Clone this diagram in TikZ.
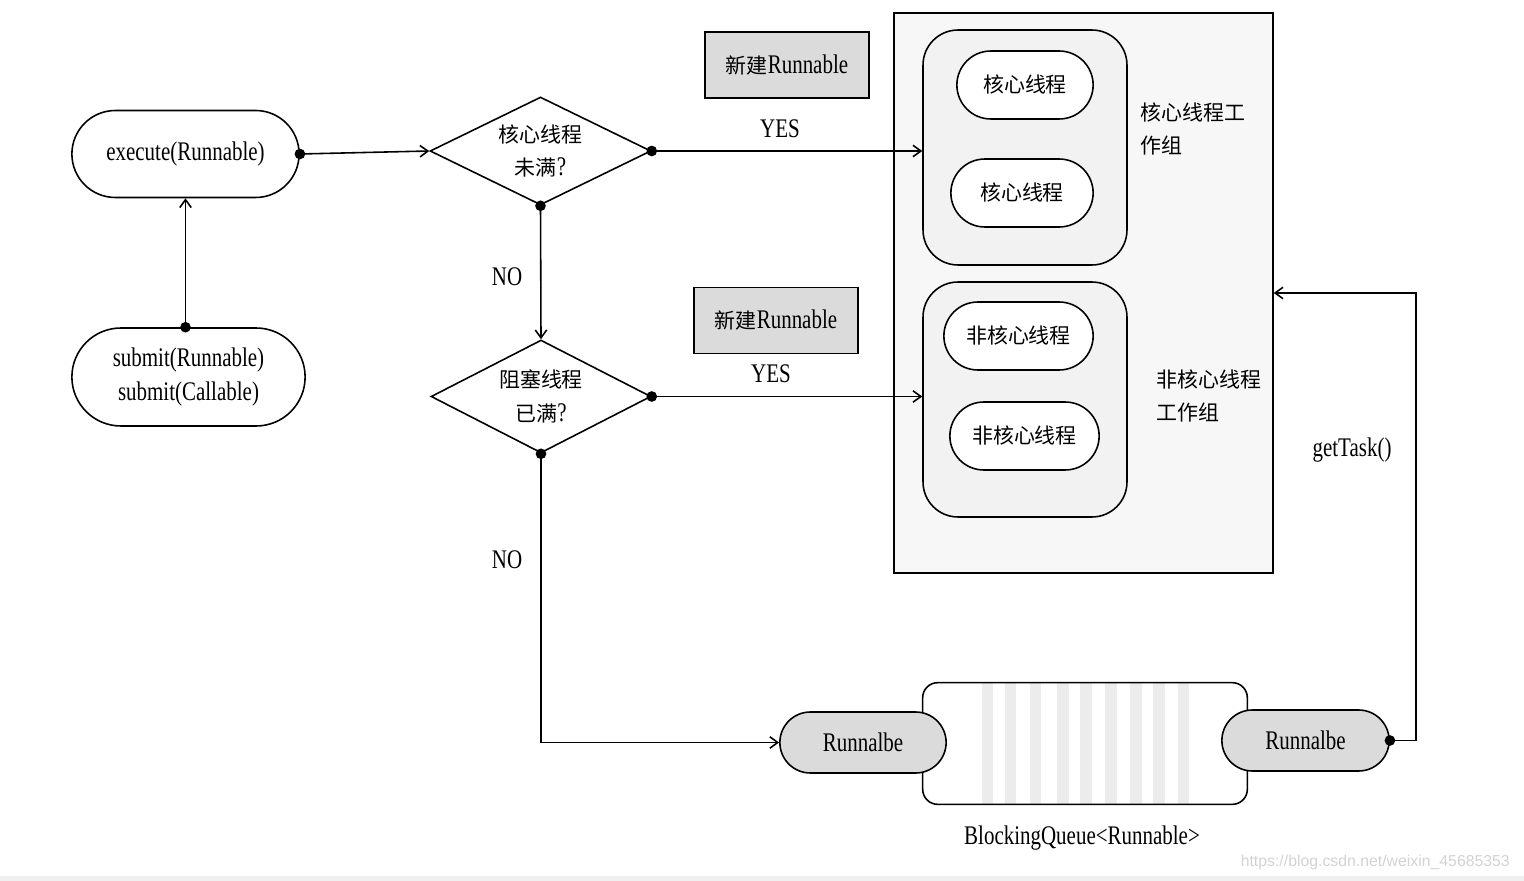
\documentclass[tikz,border=0pt]{standalone}
\usepackage{fontspec}
\setmainfont{Liberation Serif}[FakeStretch=0.78]
\newfontfamily\cjk{Noto Sans CJK SC}[Scale=0.78]
\newfontfamily\wmfont{Liberation Sans}
\usetikzlibrary{arrows.meta, shapes.geometric, shapes.misc}
\tikzset{
  pill/.style={draw, rounded rectangle, line width=0.9pt},
  cond/.style={draw, diamond, aspect=2.05, inner sep=0pt, line width=0.9pt, align=center},
  newbox/.style={draw, fill=gray!28, minimum width=3.28cm, minimum height=1.32cm, line width=0.9pt},
  grp/.style={draw, fill=gray!10, rounded corners=0.7cm, minimum width=4.08cm, minimum height=4.7cm, line width=0.9pt},
  link/.style={{Circle[length=6pt]}-{Straight Barb[length=4.5pt,width=6.5pt,line width=0.9pt]}, shorten <=-3pt, line width=0.9pt},
}

\begin{document}
\begin{tikzpicture}[x=0.02cm, y=-0.02cm, font=\fontsize{15.3}{19}\selectfont]
  \useasboundingbox (0,0) rectangle (1524,881);
  \node[pill, minimum width=4.78cm, minimum height=1.74cm] (exec) at (185.5,154) {execute(Runnable)};
  \node[pill, minimum width=4.9cm, minimum height=1.96cm, align=center] (submit) at (188.5,377) {submit(Runnable)\\submit(Callable)};
  \node[cond, minimum width=4.42cm, minimum height=2.16cm] (coreq) at (540.5,151) {{\cjk 核心线程}\\{\cjk 未满}?};
  \node[cond, minimum width=4.4cm, minimum height=2.26cm] (fullq) at (541,396.5) {{\cjk 阻塞线程}\\{\cjk 已满}?};
  \node[newbox] (new1) at (787,65) {{\cjk 新建}Runnable};
  \node[newbox] (new2) at (776,320.5) {{\cjk 新建}Runnable};
  \node (yes1) at (780,129) {YES};
  \node (yes2) at (771,374) {YES};
  \node (no1) at (507,277) {NO};
  \node (no2) at (507,560) {NO};
  \node[draw, fill=gray!6, minimum width=7.58cm, minimum height=11.2cm, line width=0.9pt] (pool) at (1083.5,293) {};
  \node[grp] (coregrp) at (1025,147.5) {};
  \node[grp] (ncgrp) at (1025,399.5) {};
  \node[pill, fill=white, minimum width=2.96cm, minimum height=1.36cm] (core1) at (1025,85) {\cjk 核心线程};
  \node[pill, fill=white, minimum width=3.08cm, minimum height=1.36cm] (core2) at (1022,193) {\cjk 核心线程};
  \node[pill, fill=white, minimum width=3.22cm, minimum height=1.36cm] (nc1) at (1018.5,336) {\cjk 非核心线程};
  \node[pill, fill=white, minimum width=3.22cm, minimum height=1.36cm] (nc2) at (1024.5,436) {\cjk 非核心线程};
  \node[align=left, anchor=west] (coretxt) at (1134,129) {{\cjk 核心线程工}\\{\cjk 作组}};
  \node[align=left, anchor=west] (nctxt) at (1150,396) {{\cjk 非核心线程}\\{\cjk 工作组}};
  \node[fill=white, minimum width=6.48cm, minimum height=2.42cm] (queue) at (1085,743.5) {};
  \foreach \x in {987.5,1010.5,1035.5,1063,1086,1111,1136,1159,1183.5}
    \fill[gray!15] (\x-5.75,683) rectangle (\x+5.75,804);
  \draw[line width=0.9pt, rounded corners=0.3cm] (queue.north west) rectangle (queue.south east);
  \node[pill, fill=gray!28, minimum width=3.56cm, minimum height=1.22cm] (rin) at (863,742.5) {Runnalbe};
  \node[pill, fill=gray!28, minimum width=3.58cm, minimum height=1.22cm] (rout) at (1305.5,740.5) {Runnalbe};
  \node (qtxt) at (1082,838) {BlockingQueue<Runnable>};
  \node (gettxt) at (1352,450) {getTask()};
  \coordinate (turn) at (1416,293);
  \draw[link] (exec.east) -- (coreq.west);
  \draw[link] (submit.north -| exec.south) -- (exec.south);
  \draw[link] (coreq.south) -- (fullq.north);
  \draw[link] (coreq.east) -- (coreq.east -| coregrp.west);
  \draw[link] (fullq.east) -- (fullq.east -| ncgrp.west);
  \draw[link] (fullq.south) |- (rin.west);
  \draw[link] (rout.east) -| (turn) -- (pool.east);
  \node[font=\wmfont\fontsize{9}{10}\selectfont, text=gray!35, anchor=east] (mark) at (1516,862) {https://blog.csdn.net/weixin\_45685353};
  \fill[gray!12] (0,876) rectangle (1524,881);
\end{tikzpicture}
\end{document}
